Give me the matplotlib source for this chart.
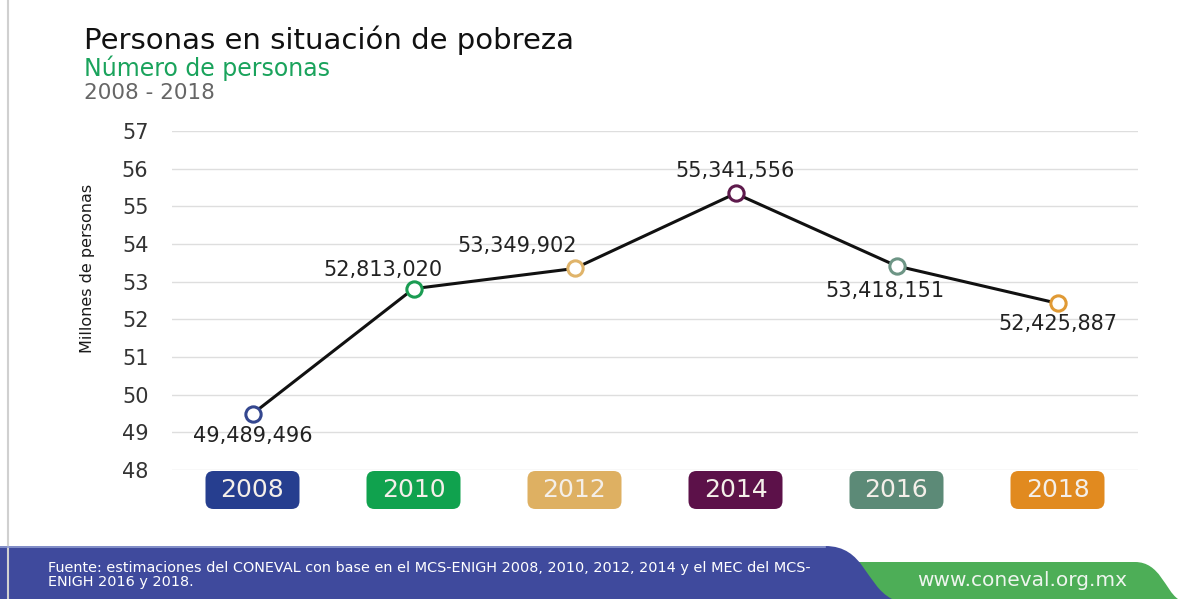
import matplotlib.pyplot as plt
from matplotlib.patches import FancyBboxPatch, PathPatch
from matplotlib.path import Path
from matplotlib.transforms import Affine2D, ScaledTranslation

plt.rcParams["font.family"] = ["DejaVu Sans"]

years = ["2008", "2010", "2012", "2014", "2016", "2018"]
personas = [49489496, 52813020, 53349902, 55341556, 53418151, 52425887]
y_ticks = [48, 49, 50, 51, 52, 53, 54, 55, 56, 57]

year_colors = ["#263e8f", "#10a24e", "#deb062", "#5c1149", "#5c8a77", "#e18a1f"]
marker_colors = ["#34478f", "#1a9c52", "#e0b46a", "#5e1a4c", "#6d9585", "#e09a35"]
# label offsets in pixels relative to each point
label_offsets = [(0, -22), (-31, 19), (-57, 22), (0, 22), (-12, -25), (0, -21)]

W, H = 1204, 599
fig = plt.figure(figsize=(W / 100, H / 100), dpi=100)
fig.patch.set_facecolor("white")


def fx(px):
    return px / W


def fy(py):
    return (H - py) / H


ax = fig.add_axes([fx(172), fy(470), fx(1138) - fx(172), fy(131) - fy(470)])
ax.set_xlim(-0.5, len(years) - 0.5)
ax.set_ylim(48, 57)
ax.set_yticks(y_ticks)
ax.set_xticks([])
ax.grid(axis="y", color="#dedede", lw=1)
ax.set_axisbelow(True)
for s in ax.spines.values():
    s.set_visible(False)
ax.tick_params(axis="y", length=0, pad=17, labelsize=15, labelcolor="#333333")
ax.set_ylabel("Millones de personas", fontsize=11.5, color="#1a1a1a")
ax.yaxis.set_label_coords(-0.08, 0.596)

xs = list(range(len(years)))
vals = [v / 1e6 for v in personas]
ax.plot(xs, vals, color="#111111", lw=2.2, zorder=2)
for i, v in enumerate(vals):
    ax.plot(i, v, "o", ms=11, mfc="white", mec=marker_colors[i], mew=2.2, zorder=3)
    ax.annotate(f"{personas[i]:,}", (i, v), xytext=label_offsets[i],
                textcoords="offset pixels", ha="center", va="center",
                fontsize=15, color="#222222")

# year badges under the axis
for i, yr in enumerate(years):
    tr = Affine2D() + ScaledTranslation(i, 48, ax.transData)
    box = FancyBboxPatch((-47, -39), 94, 38, boxstyle="round,pad=0,rounding_size=8",
                         transform=tr, facecolor=year_colors[i], edgecolor="none",
                         clip_on=False, zorder=3)
    ax.add_patch(box)
    ax.annotate(yr, (i, 48), xytext=(0, -20), textcoords="offset pixels",
                ha="center", va="center", fontsize=18, color="#f4efe9", zorder=4)

# titles
fig.text(fx(84), fy(40), "Personas en situación de pobreza", fontsize=21,
         color="#111111", va="center", ha="left")
fig.text(fx(84), fy(68), "Número de personas", fontsize=17, color="#1aa35c",
         va="center", ha="left")
fig.text(fx(84), fy(93), "2008 - 2018", fontsize=15.5, color="#666666",
         va="center", ha="left")

# left border line
fig.add_artist(plt.Line2D([fx(8), fx(8)], [0, 1], color="#d0d0d0", lw=1.5))

# footer shapes
def fig_path(points, codes):
    verts = [(fx(x), fy(y)) for x, y in points]
    return Path(verts, codes)


green = fig_path(
    [(840, 562), (1135, 562), (1160, 562), (1165, 590), (1178, 599), (840, 599), (840, 562)],
    [Path.MOVETO, Path.LINETO, Path.CURVE4, Path.CURVE4, Path.CURVE4, Path.LINETO, Path.CLOSEPOLY],
)
fig.add_artist(PathPatch(green, transform=fig.transFigure, facecolor="#4dae57", edgecolor="none"))

blue = fig_path(
    [(0, 546), (825, 546), (865, 546), (865, 585), (892, 599), (0, 599), (0, 546)],
    [Path.MOVETO, Path.LINETO, Path.CURVE4, Path.CURVE4, Path.CURVE4, Path.LINETO, Path.CLOSEPOLY],
)
fig.add_artist(PathPatch(blue, transform=fig.transFigure, facecolor="#3f4a9d", edgecolor="none"))
fig.add_artist(plt.Line2D([0, fx(825)], [fy(546.5), fy(546.5)], color="#8f9bd0", lw=1.2))

fig.text(fx(48), fy(575),
         "Fuente: estimaciones del CONEVAL con base en el MCS-ENIGH 2008, 2010, 2012, 2014 y el MEC del MCS-\nENIGH 2016 y 2018.",
         fontsize=10.4, color="white", va="center", ha="left", linespacing=1.0)
fig.text(fx(1022), fy(580), "www.coneval.org.mx", fontsize=14.5, color="#eef5ee",
         va="center", ha="center")

fig.savefig("out.png", dpi=100)
